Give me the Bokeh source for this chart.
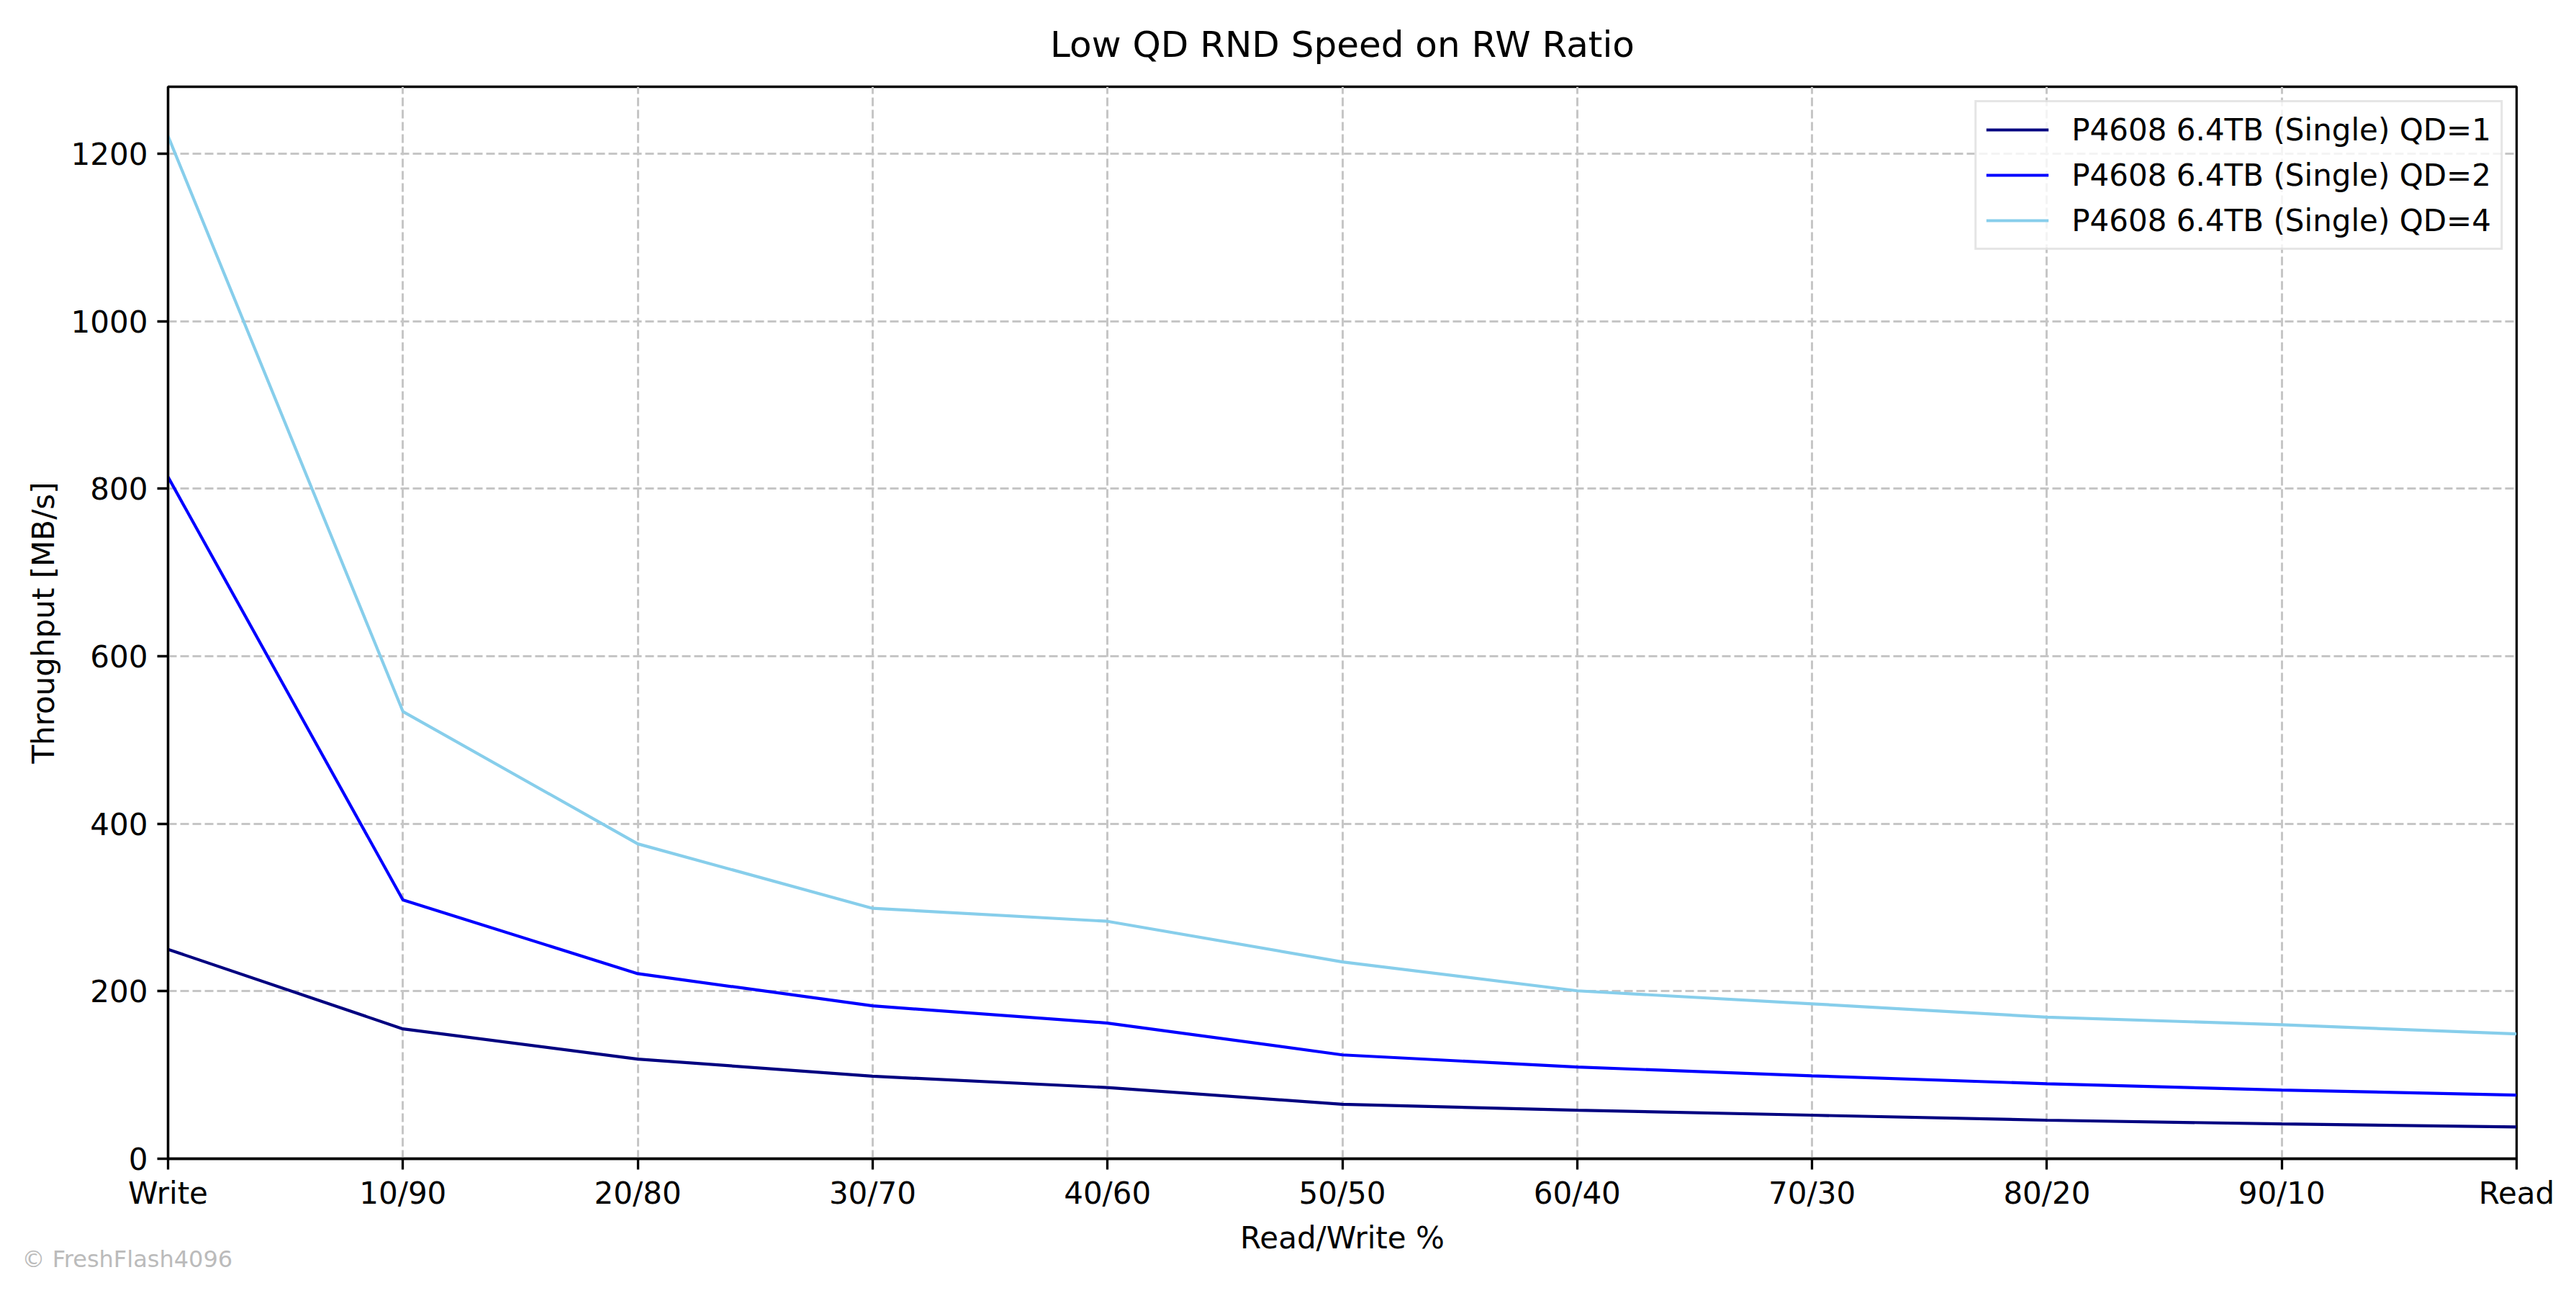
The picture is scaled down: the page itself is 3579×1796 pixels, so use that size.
from bokeh.plotting import figure
from bokeh.models import Range1d, FixedTicker, Legend, LegendItem, Title
from bokeh.embed import file_html
from bokeh.resources import INLINE

categories = ["Write", "10/90", "20/80", "30/70", "40/60", "50/50",
              "60/40", "70/30", "80/20", "90/10", "Read"]
qd1 = [250, 155, 119, 98.5, 85, 65, 58, 52, 46, 41.5, 38]
qd2 = [814, 309, 221, 182.5, 162, 124, 109.5, 99, 89.5, 82, 76]
qd4 = [1221, 534, 376, 299, 283.5, 235, 200.5, 185, 169, 160, 149]
series_names = ["P4608 6.4TB (Single) QD=1",
                "P4608 6.4TB (Single) QD=2",
                "P4608 6.4TB (Single) QD=4"]
series_colors = ["#000080", "#0000ff", "#87ceeb"]
y_ticks = [0, 200, 400, 600, 800, 1000, 1200]

FONT = "DejaVu Sans"
xs = list(range(len(categories)))

p = figure(width=3563, height=1780, output_backend="svg", toolbar_location=None,
           x_range=Range1d(0, len(categories) - 1), y_range=Range1d(0, 1280),
           min_border_left=233, min_border_right=67, min_border_top=118,
           min_border_bottom=171)
p.background_fill_color = "white"
p.border_fill_color = "white"
p.outline_line_color = "black"
p.outline_line_width = 3.3

p.title = Title(text="Low QD RND Speed on RW Ratio", align="center",
                text_font=FONT, text_font_size="50px", text_font_style="normal",
                text_color="black", standoff=60)

renderers = []
for vals, col in zip([qd1, qd2, qd4], series_colors):
    r = p.line(xs, vals, line_color=col, line_width=4.2)
    renderers.append(r)

p.xaxis.ticker = FixedTicker(ticks=xs)
p.xaxis.major_label_overrides = {i: c for i, c in enumerate(categories)}
p.yaxis.ticker = FixedTicker(ticks=y_ticks)

for ax in (p.xaxis[0], p.yaxis[0]):
    ax.axis_line_color = "black"
    ax.axis_line_width = 3.3
    ax.major_tick_line_color = "black"
    ax.major_tick_line_width = 3.3
    ax.major_tick_out = 15
    ax.major_tick_in = 0
    ax.minor_tick_line_color = None
    ax.major_label_text_font = FONT
    ax.major_label_text_font_size = "42px"
    ax.major_label_text_color = "black"
    ax.axis_label_text_font = FONT
    ax.axis_label_text_font_size = "42px"
    ax.axis_label_text_font_style = "normal"
    ax.axis_label_text_color = "black"

p.xaxis.axis_label = "Read/Write %"
p.xaxis.major_label_standoff = 8
p.xaxis.axis_label_standoff = 10
p.yaxis.axis_label = "Throughput [MB/s]"
p.yaxis.major_label_standoff = 13
p.yaxis.axis_label_standoff = 11

for g in (p.xgrid[0], p.ygrid[0]):
    g.grid_line_color = "#c6c6c6"
    g.grid_line_width = 3
    g.grid_line_dash = "12 5"

items = [LegendItem(label=n, renderers=[r]) for n, r in zip(series_names, renderers)]
legend = Legend(items=items, location="top_right", margin=19,
                label_text_font=FONT, label_text_font_size="42px",
                label_text_color="black",
                glyph_width=87, glyph_height=50, label_height=50,
                label_standoff=32, spacing=13, padding=13,
                border_line_color="#cccccc", border_line_width=3.3,
                background_fill_color="white", background_fill_alpha=0.8)
p.add_layout(legend)

wm = Title(text="© FreshFlash4096", align="left", offset=-203,
           vertical_align="top", text_font=FONT, text_font_size="32px",
           text_font_style="normal", text_color="#bbbbbb")
try:
    wm.standoff = -33
except Exception:
    wm.standoff = 0
p.add_layout(wm, "below")

open("out.html", "w").write(file_html(p, INLINE))
